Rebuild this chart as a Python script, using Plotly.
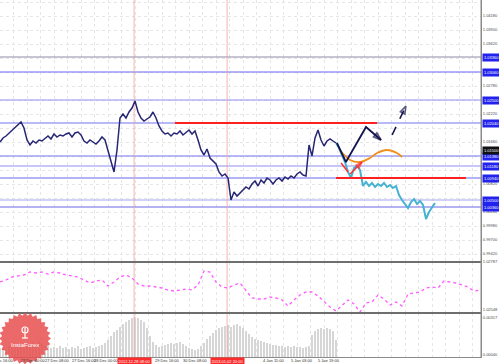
import math
import plotly.graph_objects as go
from plotly.subplots import make_subplots

# ---------------- data ----------------
close_main = [
    1.0166, 1.0174, 1.0178, 1.0184, 1.0190, 1.0194, 1.0200, 1.0206, 1.0194, 1.0170,
    1.0160, 1.0168, 1.0164, 1.0170, 1.0168, 1.0174, 1.0178, 1.0172, 1.0182, 1.0176,
    1.0180, 1.0178, 1.0182, 1.0184, 1.0176, 1.0184, 1.0186, 1.0180, 1.0168, 1.0164,
    1.0170, 1.0166, 1.0162, 1.0168, 1.0176, 1.0170, 1.0150, 1.0126, 1.0106, 1.0150,
    1.0214, 1.0222, 1.0214, 1.0226, 1.0234, 1.0248, 1.0226, 1.0214, 1.0208, 1.0212,
    1.0216, 1.0226, 1.0214, 1.0198, 1.0188, 1.0182, 1.0184, 1.0178, 1.0184, 1.0182,
    1.0188, 1.0180, 1.0186, 1.0190, 1.0182, 1.0188, 1.0170, 1.0150, 1.0140, 1.0152,
    1.0134, 1.0128, 1.0122, 1.0106, 1.0098, 1.0102, 1.0094, 1.0050, 1.0066, 1.0058,
    1.0064, 1.0068, 1.0076, 1.0072, 1.0082, 1.0088, 1.0078, 1.0090, 1.0084, 1.0094,
    1.0090, 1.0082, 1.0090, 1.0094, 1.0088, 1.0096, 1.0092, 1.0098, 1.0094, 1.0102,
    1.0106, 1.0100, 1.0098, 1.0160, 1.0138, 1.0174, 1.0190, 1.0170, 1.0158, 1.0168,
    1.0172, 1.0168, 1.0164,
]
fcst_start = 112
close_fcst = [
    1.0164, 1.0154, 1.0140, 1.0126, 1.0106, 1.0094, 1.0114, 1.0118, 1.0110, 1.0078,
    1.0086, 1.0078, 1.0084, 1.0076, 1.0082, 1.0078, 1.0084, 1.0076, 1.0080, 1.0074,
    1.0078, 1.0060, 1.0050, 1.0042, 1.0034, 1.0046, 1.0052, 1.0042, 1.0048, 1.0040,
    1.0012, 1.0026, 1.0036, 1.0044,
]
pink_vals = [
    1.02700, 1.02710, 1.02725, 1.02730, 1.02735, 1.02750, 1.02745, 1.02750, 1.02740, 1.02750,
    1.02745, 1.02735, 1.02730, 1.02725, 1.02710, 1.02695, 1.02705, 1.02710, 1.02680, 1.02700,
    1.02725, 1.02735, 1.02720, 1.02690, 1.02680, 1.02680, 1.02675, 1.02670, 1.02660, 1.02655,
    1.02660, 1.02665, 1.02660, 1.02685, 1.02755, 1.02750, 1.02700, 1.02675, 1.02670, 1.02685,
    1.02695, 1.02655, 1.02620, 1.02615, 1.02615, 1.02625, 1.02620, 1.02610, 1.02580, 1.02610,
    1.02635, 1.02650, 1.02650, 1.02630, 1.02600, 1.02575, 1.02555, 1.02585, 1.02610, 1.02590,
    1.02550, 1.02595, 1.02600, 1.02635, 1.02615, 1.02585, 1.02600, 1.02580, 1.02640, 1.02645,
    1.02650, 1.02670, 1.02675, 1.02670, 1.02705, 1.02700, 1.02695, 1.02685, 1.02675, 1.02655,
    1.02660,
]
pink_step = 2
vol_vals = [
    0.00068, 0.00075, 0.00060, 0.00083, 0.00075, 0.00090, 0.00083, 0.00098, 0.00090, 0.00105,
    0.00090, 0.00113, 0.00098, 0.00120, 0.00105, 0.00083, 0.00090, 0.00068, 0.00075, 0.00068,
    0.00083, 0.00068, 0.00075, 0.00060, 0.00075, 0.00068, 0.00083, 0.00060, 0.00068, 0.00075,
    0.00083, 0.00068, 0.00075, 0.00083, 0.00090, 0.00105, 0.00128, 0.00158, 0.00188, 0.00203,
    0.00225, 0.00248, 0.00263, 0.00278, 0.00293, 0.00300, 0.00293, 0.00278, 0.00263, 0.00218,
    0.00158, 0.00113, 0.00090, 0.00075, 0.00083, 0.00090, 0.00098, 0.00105, 0.00098, 0.00105,
    0.00113, 0.00098, 0.00083, 0.00068, 0.00060, 0.00053, 0.00060, 0.00083, 0.00105, 0.00135,
    0.00158, 0.00180, 0.00203, 0.00218, 0.00225, 0.00233, 0.00240, 0.00225, 0.00240, 0.00248,
    0.00233, 0.00218, 0.00195, 0.00173, 0.00150, 0.00135, 0.00128, 0.00120, 0.00113, 0.00105,
    0.00098, 0.00090, 0.00090, 0.00083, 0.00083, 0.00075, 0.00083, 0.00075, 0.00083, 0.00075,
    0.00075, 0.00068, 0.00075, 0.00083, 0.00165, 0.00195, 0.00210, 0.00218, 0.00210, 0.00218,
    0.00210, 0.00195, 0.00128,
]

levels = [1.0336, 1.0306, 1.0250, 1.0204, 1.0138, 1.0118, 1.0094, 1.0050, 1.0036]
current_price = 1.0150
main_ticks = [1.0446, 1.0418, 1.0390, 1.0362, 1.0278, 1.0222, 1.0166, 1.0082,
              1.0026, 0.9998, 0.9970, 0.9942]
red_start = [58.3, 112.0]
red_end = [125.7, 155.3]
red_price = [1.0204, 1.0094]
event_bars = [44.7, 75.7]
event_labels = ["2012.12.28 08:00", "2013.01.02 20:00"]
date_ticks = [5.0, 11.0, 19.0, 28.3, 35.5, 55.7, 65.3, 91.0, 100.7, 109.7]
date_labels = ["26 Dec 16:00", "27 Dec 00:00", "27 Dec 08:00", "27 Dec 16:00", "28 Dec 00:00",
               "29 Dec 16:00", "30 Dec 08:00", "4 Jan 11:00", "5 Jan 03:00", "5 Jan 19:00"]
date_anchor = ["right", "center", "center", "center", "center",
               "center", "center", "center", "center", "center"]

# forecast drawings
solid_x = [112.3, 115.3, 122.0, 127.0]
solid_y = [1.0164, 1.0126, 1.0196, 1.0170]
dashed_x = [130.7, 135.3]
dashed_y = [1.0180, 1.0238]
orange_x = [113.3, 116.7, 120.0, 123.3, 125.7, 129.0, 132.3, 134.0]
orange_y = [1.0150, 1.0130, 1.0126, 1.0134, 1.0144, 1.0150, 1.0144, 1.0136]
reda_x = [113.7, 116.0]
reda_y = [1.0124, 1.0106]
redb_x = [116.7, 120.7]
redb_y = [1.0102, 1.0126]

# ---------------- styles ----------------
level_colors = ["#8c8ca8", "#6868f0", "#8e8ef2", "#7474f0", "#7474f0",
                "#8e8ef2", "#6868f0", "#a6a6f2", "#6868e8"]
FONT = "Liberation Sans"
XMAX = 160.33
YR_MAIN = [0.9926, 1.0450]
YR_PINK = [1.02545, 1.02800]
YR_VOL = [0, 0.0033]

fig = make_subplots(rows=3, cols=1, shared_xaxes=True, vertical_spacing=0,
                    row_heights=[262, 51, 44])

# horizontal levels (drawn first, beneath price)
for lv, col in zip(levels, level_colors):
    fig.add_trace(go.Scatter(x=[0, XMAX], y=[lv, lv], mode="lines",
                             line=dict(color=col, width=1.2)), row=1, col=1)
# event verticals in every panel
for ev in event_bars:
    for r, yr in zip((1, 2, 3), (YR_MAIN, YR_PINK, YR_VOL)):
        fig.add_trace(go.Scatter(x=[ev, ev], y=yr, mode="lines",
                                 line=dict(color="#f4a0a0", width=0.8)), row=r, col=1)

main_x = list(range(len(close_main)))
fig.add_trace(go.Scatter(x=main_x, y=close_main, mode="lines",
                         line=dict(color="#262674", width=1.5)), row=1, col=1)

fx = list(range(fcst_start, fcst_start + len(close_fcst)))
fig.add_trace(go.Scatter(x=fx, y=close_fcst, mode="lines",
                         line=dict(color="#46b2d2", width=2)), row=1, col=1)

for xs, xe, p in zip(red_start, red_end, red_price):
    fig.add_trace(go.Scatter(x=[xs, xe], y=[p, p], mode="lines",
                             line=dict(color="#ff2020", width=2)), row=1, col=1)

fig.add_trace(go.Scatter(x=orange_x, y=orange_y, mode="lines", line_shape="spline",
                         line=dict(color="#f0901a", width=1.8)), row=1, col=1)

fig.add_trace(go.Scatter(x=reda_x, y=reda_y, mode="lines",
                         line=dict(color="#ff3030", width=1.5)), row=1, col=1)
fig.add_trace(go.Scatter(x=redb_x, y=redb_y, mode="lines+markers",
                         line=dict(color="#ff3030", width=1.5),
                         marker=dict(symbol=["circle", "arrow-open"], size=[0, 7],
                                     angleref="previous",
                                     line=dict(color="#ff3030", width=1.5),
                                     color="#ff3030")), row=1, col=1)

fig.add_trace(go.Scatter(x=solid_x, y=solid_y, mode="lines+markers",
                         line=dict(color="#141450", width=1.8),
                         marker=dict(symbol=["circle"] * 3 + ["arrow-open"],
                                     size=[0, 0, 0, 8], angleref="previous",
                                     line=dict(color="#141450", width=1.8),
                                     color="#141450")), row=1, col=1)
fig.add_trace(go.Scatter(x=dashed_x, y=dashed_y, mode="lines+markers",
                         line=dict(color="#141450", width=1.6, dash="dash"),
                         marker=dict(symbol=["circle", "arrow-open"], size=[0, 8],
                                     angleref="previous",
                                     line=dict(color="#141450", width=1.6),
                                     color="#141450")), row=1, col=1)

fig.add_trace(go.Scatter(x=[pink_step * k for k in range(len(pink_vals))], y=pink_vals,
                         mode="lines", line=dict(color="#ff5cff", width=1.3, dash="dot")),
              row=2, col=1)

fig.add_trace(go.Bar(x=main_x[:len(vol_vals)], y=vol_vals, width=0.5,
                     marker=dict(color="#d6d6d6", line=dict(width=0))), row=3, col=1)

# ---------------- axes ----------------
fig.update_xaxes(range=[0, XMAX], showgrid=False, zeroline=False, showticklabels=False,
                 ticks="", showline=False,
                 minor=dict(tickmode="linear", tick0=0, dtick=4.5, showgrid=True,
                            gridcolor="#e6e6e6", griddash="dot", gridwidth=1))
fig.update_xaxes(row=3, col=1, showline=True, linecolor="#8a8a8a", linewidth=1)

ytick = dict(size=4, color="#4a4a4a", family=FONT)
fig.update_yaxes(row=1, col=1, side="right", range=YR_MAIN, tickmode="array",
                 tickvals=main_ticks, tickformat=".5f", tickfont=ytick, showgrid=False,
                 minor=dict(tickmode="linear", tick0=1.0446, dtick=0.0028, showgrid=True,
                            gridcolor="#e6e6e6", griddash="dot", gridwidth=1),
                 zeroline=False, ticks="", showline=True, linecolor="#8a8a8a",
                 automargin=False)
fig.update_yaxes(row=2, col=1, side="right", range=YR_PINK,
                 tickmode="array", tickvals=[1.02787, 1.02548], tickformat=".5f",
                 ticklabelposition="outside top",
                 tickfont=ytick, showgrid=False, zeroline=False, ticks="",
                 showline=True, linecolor="#8a8a8a", automargin=False)
fig.update_yaxes(row=3, col=1, side="right", range=YR_VOL,
                 tickmode="array", tickvals=[0.00317, 0.0004], tickformat=".5f",
                 ticklabelposition="outside bottom",
                 tickfont=ytick, showgrid=False, zeroline=False, ticks="",
                 showline=True, linecolor="#8a8a8a", automargin=False)

# ---------------- annotations ----------------
anns = []
for lv in levels:
    anns.append(dict(xref="paper", yref="y", x=1.0, y=lv, xanchor="left", yanchor="middle",
                     text=f"{lv:.5f}", showarrow=False, bgcolor="#2222ee",
                     font=dict(size=4, color="white", family=FONT), borderpad=1, xshift=1))
anns.append(dict(xref="paper", yref="y", x=1.0, y=current_price, xanchor="left",
                 yanchor="middle", text=f"{current_price:.5f}", showarrow=False,
                 bgcolor="#111111", font=dict(size=4, color="white", family=FONT),
                 borderpad=1, xshift=1))
for xv, lab, anc in zip(date_ticks, date_labels, date_anchor):
    anns.append(dict(xref="x3", yref="paper", x=xv, y=0, yanchor="top", xanchor=anc,
                     yshift=0, text=lab, showarrow=False, borderpad=0,
                     font=dict(size=4, color="#303030", family=FONT)))
for ev, lab in zip(event_bars, event_labels):
    anns.append(dict(xref="x3", yref="paper", x=ev, y=0, yanchor="top", yshift=0,
                     text=lab, showarrow=False, bgcolor="#ff2a2a",
                     font=dict(size=4, color="white", family=FONT), borderpad=0.5))

PW, PH = 481.0, 357.0
cx, cy = 25.0, 338.5
anns.append(dict(xref="paper", yref="paper", x=cx / PW, y=1 - 345 / PH,
                 xanchor="center", yanchor="middle",
                 text="InstaForex", showarrow=False,
                 font=dict(size=6, color="white", family=FONT)))

# ---------------- shapes (frame & logo) ----------------
shapes = []
for yb in [1 - 262 / PH, 44 / PH]:
    shapes.append(dict(type="line", xref="paper", yref="paper", x0=0, x1=1, y0=yb, y1=yb,
                       line=dict(color="#6e6e6e", width=2)))
shapes.append(dict(type="line", xref="paper", yref="paper", x0=1, x1=1, y0=0, y1=1,
                   line=dict(color="#8a8a8a", width=1)))

N = 28
pts = []
for k in range(2 * N):
    r = 26 if k % 2 == 0 else 23
    a = math.pi * k / N
    pts.append(f"{r * math.cos(a):.2f},{r * math.sin(a):.2f}")
shapes.append(dict(type="path", xref="paper", yref="paper", xsizemode="pixel",
                   ysizemode="pixel", xanchor=cx / PW, yanchor=1 - cy / PH,
                   path="M " + " L ".join(pts) + " Z",
                   fillcolor="rgba(233,80,80,0.86)", line=dict(width=0), layer="above"))
shapes.append(dict(type="circle", xref="paper", yref="paper",
                   x0=(cx - 3) / PW, x1=(cx + 3) / PW, y0=1 - 333 / PH, y1=1 - 327 / PH,
                   line=dict(color="white", width=1.2), layer="above"))
shapes.append(dict(type="line", xref="paper", yref="paper",
                   x0=cx / PW, x1=cx / PW, y0=1 - 338 / PH, y1=1 - 328 / PH,
                   line=dict(color="white", width=1.2), layer="above"))
shapes.append(dict(type="line", xref="paper", yref="paper",
                   x0=(cx - 3) / PW, x1=(cx + 3) / PW, y0=1 - 338 / PH, y1=1 - 338 / PH,
                   line=dict(color="white", width=1.2), layer="above"))

fig.update_layout(width=499, height=364, margin=dict(l=0, r=18, t=0, b=7),
                  template="none", paper_bgcolor="white", plot_bgcolor="white",
                  showlegend=False, annotations=anns, shapes=shapes, bargap=0,
                  font=dict(family=FONT))

fig.write_html("out.html")
